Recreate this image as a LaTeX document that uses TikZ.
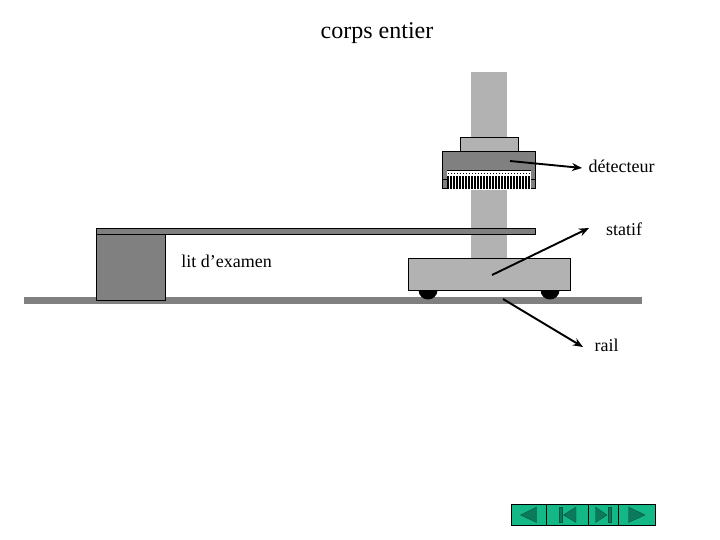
\documentclass[tikz,border=0pt]{standalone}
\usepackage{fontspec}
\setmainfont{Liberation Serif}
\definecolor{colgray}{HTML}{B2B2B2}
\definecolor{darkgray}{HTML}{808080}
\definecolor{navfill}{HTML}{14B886}
\definecolor{navdark}{HTML}{0B7A5C}
\usetikzlibrary{arrows.meta}
\tikzset{
  part/.style={draw=black,line width=1pt},
  lbl/.style={font=\fontsize{18}{20}\selectfont,inner sep=0pt,text=black,anchor=base},
  callout/.style={draw=black,line width=1.9pt,-{Stealth[length=10pt,width=8pt]}},
  navtri/.style={fill=navdark,draw=navdark!70!black,line width=0.4pt}
}
\begin{document}
\begin{tikzpicture}[x=1pt,y=-1pt]
\useasboundingbox (0,0) rectangle (720,540);
% column
\fill[colgray] (471,72) rectangle (507,258);
% floor
\fill[darkgray] (24,297) rectangle (642,303.5);
% bed
\draw[part,fill=darkgray] (96,234) rectangle (165.5,300);
\draw[part,fill=darkgray] (96,228.5) rectangle (535,234);
% wheels
\fill[black] (418.5,290) arc[start angle=180,end angle=0,radius=9.5] -- cycle;
\fill[black] (540.5,290) arc[start angle=180,end angle=0,radius=9.5] -- cycle;
% cart
\draw[part,fill=colgray] (408.5,258.5) rectangle (570.5,290);
% detector
\draw[part,fill=colgray] (460.5,137.5) rectangle (518,151.5);
\draw[part,fill=darkgray] (442.5,151.5) rectangle (535.5,189);
\draw[line width=0.6pt] (442.5,179) -- (535.5,179);
\fill[white] (447,170) rectangle (531,190);
\foreach \i in {0,...,27}{
  \fill[black] ({447.4+3*\i},176) rectangle ({449.4+3*\i},189.5);
  \fill[black] ({448+3*\i},173) rectangle ({449+3*\i},174);
}
\draw[line width=0.5pt] (447,170.3) -- (531,170.3);
% named anchors
\coordinate (detA) at (510,161);
\coordinate (statA) at (492,275);
\coordinate (railA) at (503,299);
\node[lbl] (titre) at (377,39) {\fontsize{24}{26}\selectfont corps entier};
\node[lbl] (det) at (621.5,172.5) {détecteur};
\node[lbl] (stat) at (624,236) {statif};
\node[lbl] (lit) at (226.5,267.5) {lit d’examen};
\node[lbl] (rail) at (606.5,351.5) {rail};
\coordinate (detB) at (582,168);
\coordinate (statB) at (589,228);
\coordinate (railB) at (583,347);
\draw[callout] (detA) -- (detB);
\draw[callout] (statA) -- (statB);
\draw[callout] (railA) -- (railB);
% navigation
\draw[line width=0.9pt,fill=navfill] (511,504.5) rectangle (655,525.5);
\draw[line width=0.9pt] (546,504.5) -- (546,525.5) (588,504.5) -- (588,525.5) (618.5,504.5) -- (618.5,525.5);
\draw[navtri] (520.5,515) -- (536.5,507) -- (536.5,522.5) -- cycle;
\draw[navtri] (559.5,507) rectangle (562,522.5);
\draw[navtri] (563.5,515) -- (576,507) -- (576,522.5) -- cycle;
\draw[navtri] (607,515) -- (595.5,507) -- (595.5,522.5) -- cycle;
\draw[navtri] (608.5,507) rectangle (611,522.5);
\draw[navtri] (645,515) -- (628.5,507) -- (628.5,522.5) -- cycle;
\end{tikzpicture}
\end{document}
